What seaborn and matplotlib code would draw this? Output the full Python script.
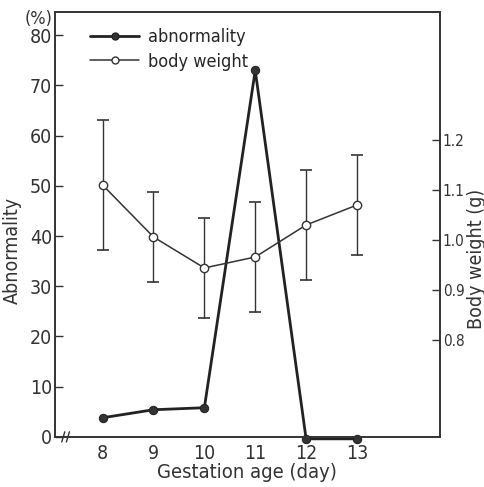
import matplotlib
matplotlib.use("Agg")
import matplotlib.pyplot as plt
import seaborn as sns
import pandas as pd
from matplotlib.lines import Line2D

sns.set_theme(style="white")
plt.rcParams["font.family"] = ["DejaVu Sans"]
plt.rcParams["font.stretch"] = "condensed"

# data
days = [8, 9, 10, 11, 12, 13]
abnormality = [3.8, 5.4, 5.8, 73.0, -0.4, -0.4]
body_weight = [1.11, 1.006, 0.944, 0.966, 1.03, 1.07]
body_weight_sd = [0.13, 0.09, 0.10, 0.11, 0.11, 0.10]
left_ticks = [0, 10, 20, 30, 40, 50, 60, 70, 80]
right_ticks = [0.8, 0.9, 1.0, 1.1, 1.2]

df = pd.DataFrame({"day": days, "abn": abnormality, "bw": body_weight, "sd": body_weight_sd})

fig = plt.figure(figsize=(4.85, 4.87), dpi=100)
ax = fig.add_axes([0.113, 0.103, 0.794, 0.872])
ax2 = ax.twinx()

sns.lineplot(data=df, x="day", y="abn", ax=ax, color="#222222", lw=2.0, clip_on=False,
             marker="o", markersize=6, markerfacecolor="#333333", markeredgecolor="#222222")
ax2.errorbar(df["day"], df["bw"], yerr=df["sd"], fmt="none", ecolor="#333333",
             elinewidth=1.0, capsize=4, capthick=1.2)
sns.lineplot(data=df, x="day", y="bw", ax=ax2, color="#333333", lw=1.1,
             marker="o", markersize=6, markerfacecolor="white", markeredgecolor="#333333",
             markeredgewidth=1.0)

ax.set_xlim(7.06, 14.63)
ax.set_ylim(0, 84.6)
ax2.set_ylim(0.606, 1.456)
ax.set_xticks(days)
ax.set_yticks(left_ticks)
ax2.set_yticks(right_ticks)
ax2.set_yticklabels([f"{t:.1f}" for t in right_ticks])

for a in (ax, ax2):
    for s in a.spines.values():
        s.set_color("#333333")
        s.set_linewidth(1.2)
ax.tick_params(axis="both", direction="in", length=6, width=1.0, colors="#333333",
               labelsize=14, labelcolor="#333333", pad=2)
ax.tick_params(axis="x", pad=5)
ax2.tick_params(axis="y", direction="in", length=6, width=1.0, colors="#333333",
                labelsize=11, labelcolor="#333333", pad=2)

ax.set_xlabel("Gestation age (day)", fontsize=14.5, color="#333333", labelpad=0)
ax.set_ylabel("Abnormality", fontsize=14, color="#333333", labelpad=0)
ax.yaxis.set_label_coords(-0.085, 0.44)
ax2.set_ylabel("Body weight (g)", fontsize=14, color="#333333", labelpad=4)
ax2.yaxis.set_label_coords(1.07, 0.42)
ax.text(-0.005, 0.985, "(%)", transform=ax.transAxes, fontsize=13, color="#333333",
        ha="right", va="center")

# axis break mark
for dx in (0.022, 0.034):
    ax.plot([dx - 0.004, dx + 0.004], [-0.012, 0.012], transform=ax.transAxes,
            color="#333333", lw=1.0, clip_on=False)

handles = [
    Line2D([], [], color="#222222", lw=2.0, marker="o", markersize=5,
           markerfacecolor="#333333"),
    Line2D([], [], color="#333333", lw=1.1, marker="o", markersize=5,
           markerfacecolor="white"),
]
ax.legend(handles, ["abnormality", "body weight"], loc="upper left",
          bbox_to_anchor=(0.05, 1.0), frameon=False, fontsize=13,
          handlelength=2.7, labelspacing=0.35, handletextpad=0.5)

fig.savefig("out.png", dpi=100)
